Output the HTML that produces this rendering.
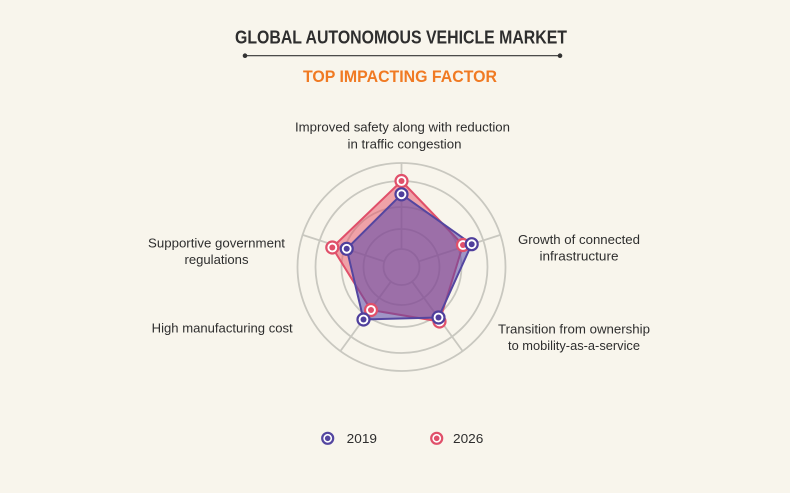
<!DOCTYPE html>
<html>
<head>
<meta charset="utf-8">
<style>
  html, body { margin:0; padding:0; background:#f8f5ec; }
  body { width:790px; height:493px; overflow:hidden; }
  svg { display:block; }
  text { font-family:"Liberation Sans", "DejaVu Sans", sans-serif; fill:#2e2e2e; }
</style>
</head>
<body>
<svg width="790" height="493" viewBox="0 0 790 493" xmlns="http://www.w3.org/2000/svg">
  <rect x="0" y="0" width="790" height="493" fill="#f8f5ec"/>

  <!-- Title -->
  <text x="401" y="43.3" font-size="18" font-weight="bold" text-anchor="middle" textLength="332" lengthAdjust="spacingAndGlyphs" fill="#333">GLOBAL AUTONOMOUS VEHICLE MARKET</text>
  <line x1="245" y1="55.7" x2="560" y2="55.7" stroke="#333" stroke-width="1.2"/>
  <circle cx="245" cy="55.7" r="2.3" fill="#333"/>
  <circle cx="560" cy="55.7" r="2.3" fill="#333"/>
  <text x="400" y="82" font-size="16.5" font-weight="bold" text-anchor="middle" textLength="194" lengthAdjust="spacingAndGlyphs" style="fill:#f07a23">TOP IMPACTING FACTOR</text>

  <!-- Grid -->
  <g fill="none" stroke="#c9c8c0" stroke-width="1.8">
    <circle cx="401.5" cy="267" r="18"/>
    <circle cx="401.5" cy="267" r="38"/>
    <circle cx="401.5" cy="267" r="60"/>
    <circle cx="401.5" cy="267" r="86"/>
    <circle cx="401.5" cy="267" r="104"/>
    <!-- spokes -->
    <line x1="401.5" y1="249" x2="401.5" y2="163"/>
    <line x1="418.62" y1="261.44" x2="500.41" y2="234.86"/>
    <line x1="412.08" y1="281.56" x2="462.63" y2="351.14"/>
    <line x1="390.92" y1="281.56" x2="340.37" y2="351.14"/>
    <line x1="384.38" y1="261.44" x2="302.59" y2="234.86"/>
  </g>

  <!-- 2026 polygon -->
  <polygon points="401.5,181 463,245 439.5,321.5 371,310 332.3,247.5" fill="rgba(230,80,100,0.5)" stroke="#e0506a" stroke-width="2" stroke-linejoin="round"/>
  <!-- 2019 polygon -->
  <polygon points="401.5,194.3 471.7,244.2 438.5,317.5 363.5,319.5 346.7,248.8" fill="rgba(88,70,168,0.55)" stroke="#5446a0" stroke-width="2" stroke-linejoin="round"/>

  <!-- 2026 markers -->
  <g>
    <g fill="#fff" stroke="#e0506a" stroke-width="2.2">
      <circle cx="401.5" cy="181" r="6"/>
      <circle cx="463" cy="245" r="6"/>
      <circle cx="439.5" cy="321.5" r="6"/>
      <circle cx="371" cy="310" r="6"/>
      <circle cx="332.3" cy="247.5" r="6"/>
    </g>
    <g fill="#e0506a">
      <circle cx="401.5" cy="181" r="3"/>
      <circle cx="463" cy="245" r="3"/>
      <circle cx="439.5" cy="321.5" r="3"/>
      <circle cx="371" cy="310" r="3"/>
      <circle cx="332.3" cy="247.5" r="3"/>
    </g>
  </g>
  <!-- 2019 markers -->
  <g>
    <g fill="#fff" stroke="#4f3f9c" stroke-width="2.2">
      <circle cx="401.5" cy="194.3" r="6"/>
      <circle cx="471.7" cy="244.2" r="6"/>
      <circle cx="438.5" cy="317.5" r="6"/>
      <circle cx="363.5" cy="319.5" r="6"/>
      <circle cx="346.7" cy="248.8" r="6"/>
    </g>
    <g fill="#4f3f9c">
      <circle cx="401.5" cy="194.3" r="3"/>
      <circle cx="471.7" cy="244.2" r="3"/>
      <circle cx="438.5" cy="317.5" r="3"/>
      <circle cx="363.5" cy="319.5" r="3"/>
      <circle cx="346.7" cy="248.8" r="3"/>
    </g>
  </g>

  <!-- Axis labels -->
  <g font-size="13" text-anchor="middle">
    <text x="402.5" y="131.5" textLength="215" lengthAdjust="spacingAndGlyphs">Improved safety along with reduction</text>
    <text x="404.5" y="148.3" textLength="114" lengthAdjust="spacingAndGlyphs">in traffic congestion</text>

    <text x="579" y="244" textLength="122" lengthAdjust="spacingAndGlyphs">Growth of connected</text>
    <text x="579" y="260.5" textLength="79" lengthAdjust="spacingAndGlyphs">infrastructure</text>

    <text x="574" y="333.3" textLength="152" lengthAdjust="spacingAndGlyphs">Transition from ownership</text>
    <text x="574" y="350" textLength="132" lengthAdjust="spacingAndGlyphs">to mobility-as-a-service</text>

    <text x="222.2" y="332.3" textLength="141" lengthAdjust="spacingAndGlyphs">High manufacturing cost</text>

    <text x="216.5" y="247.5" textLength="137" lengthAdjust="spacingAndGlyphs">Supportive government</text>
    <text x="216.5" y="264" textLength="64" lengthAdjust="spacingAndGlyphs">regulations</text>
  </g>

  <!-- Legend -->
  <circle cx="327.7" cy="438.3" r="5.5" fill="#fff" stroke="#5446a0" stroke-width="2.2"/>
  <circle cx="327.7" cy="438.3" r="2.8" fill="#5446a0"/>
  <text x="346.7" y="442.8" font-size="13" textLength="30.3" lengthAdjust="spacingAndGlyphs">2019</text>

  <circle cx="436.7" cy="438.3" r="5.5" fill="#fff" stroke="#e0506a" stroke-width="2.2"/>
  <circle cx="436.7" cy="438.3" r="2.8" fill="#e0506a"/>
  <text x="453" y="442.8" font-size="13" textLength="30.3" lengthAdjust="spacingAndGlyphs">2026</text>
</svg>
</body>
</html>
